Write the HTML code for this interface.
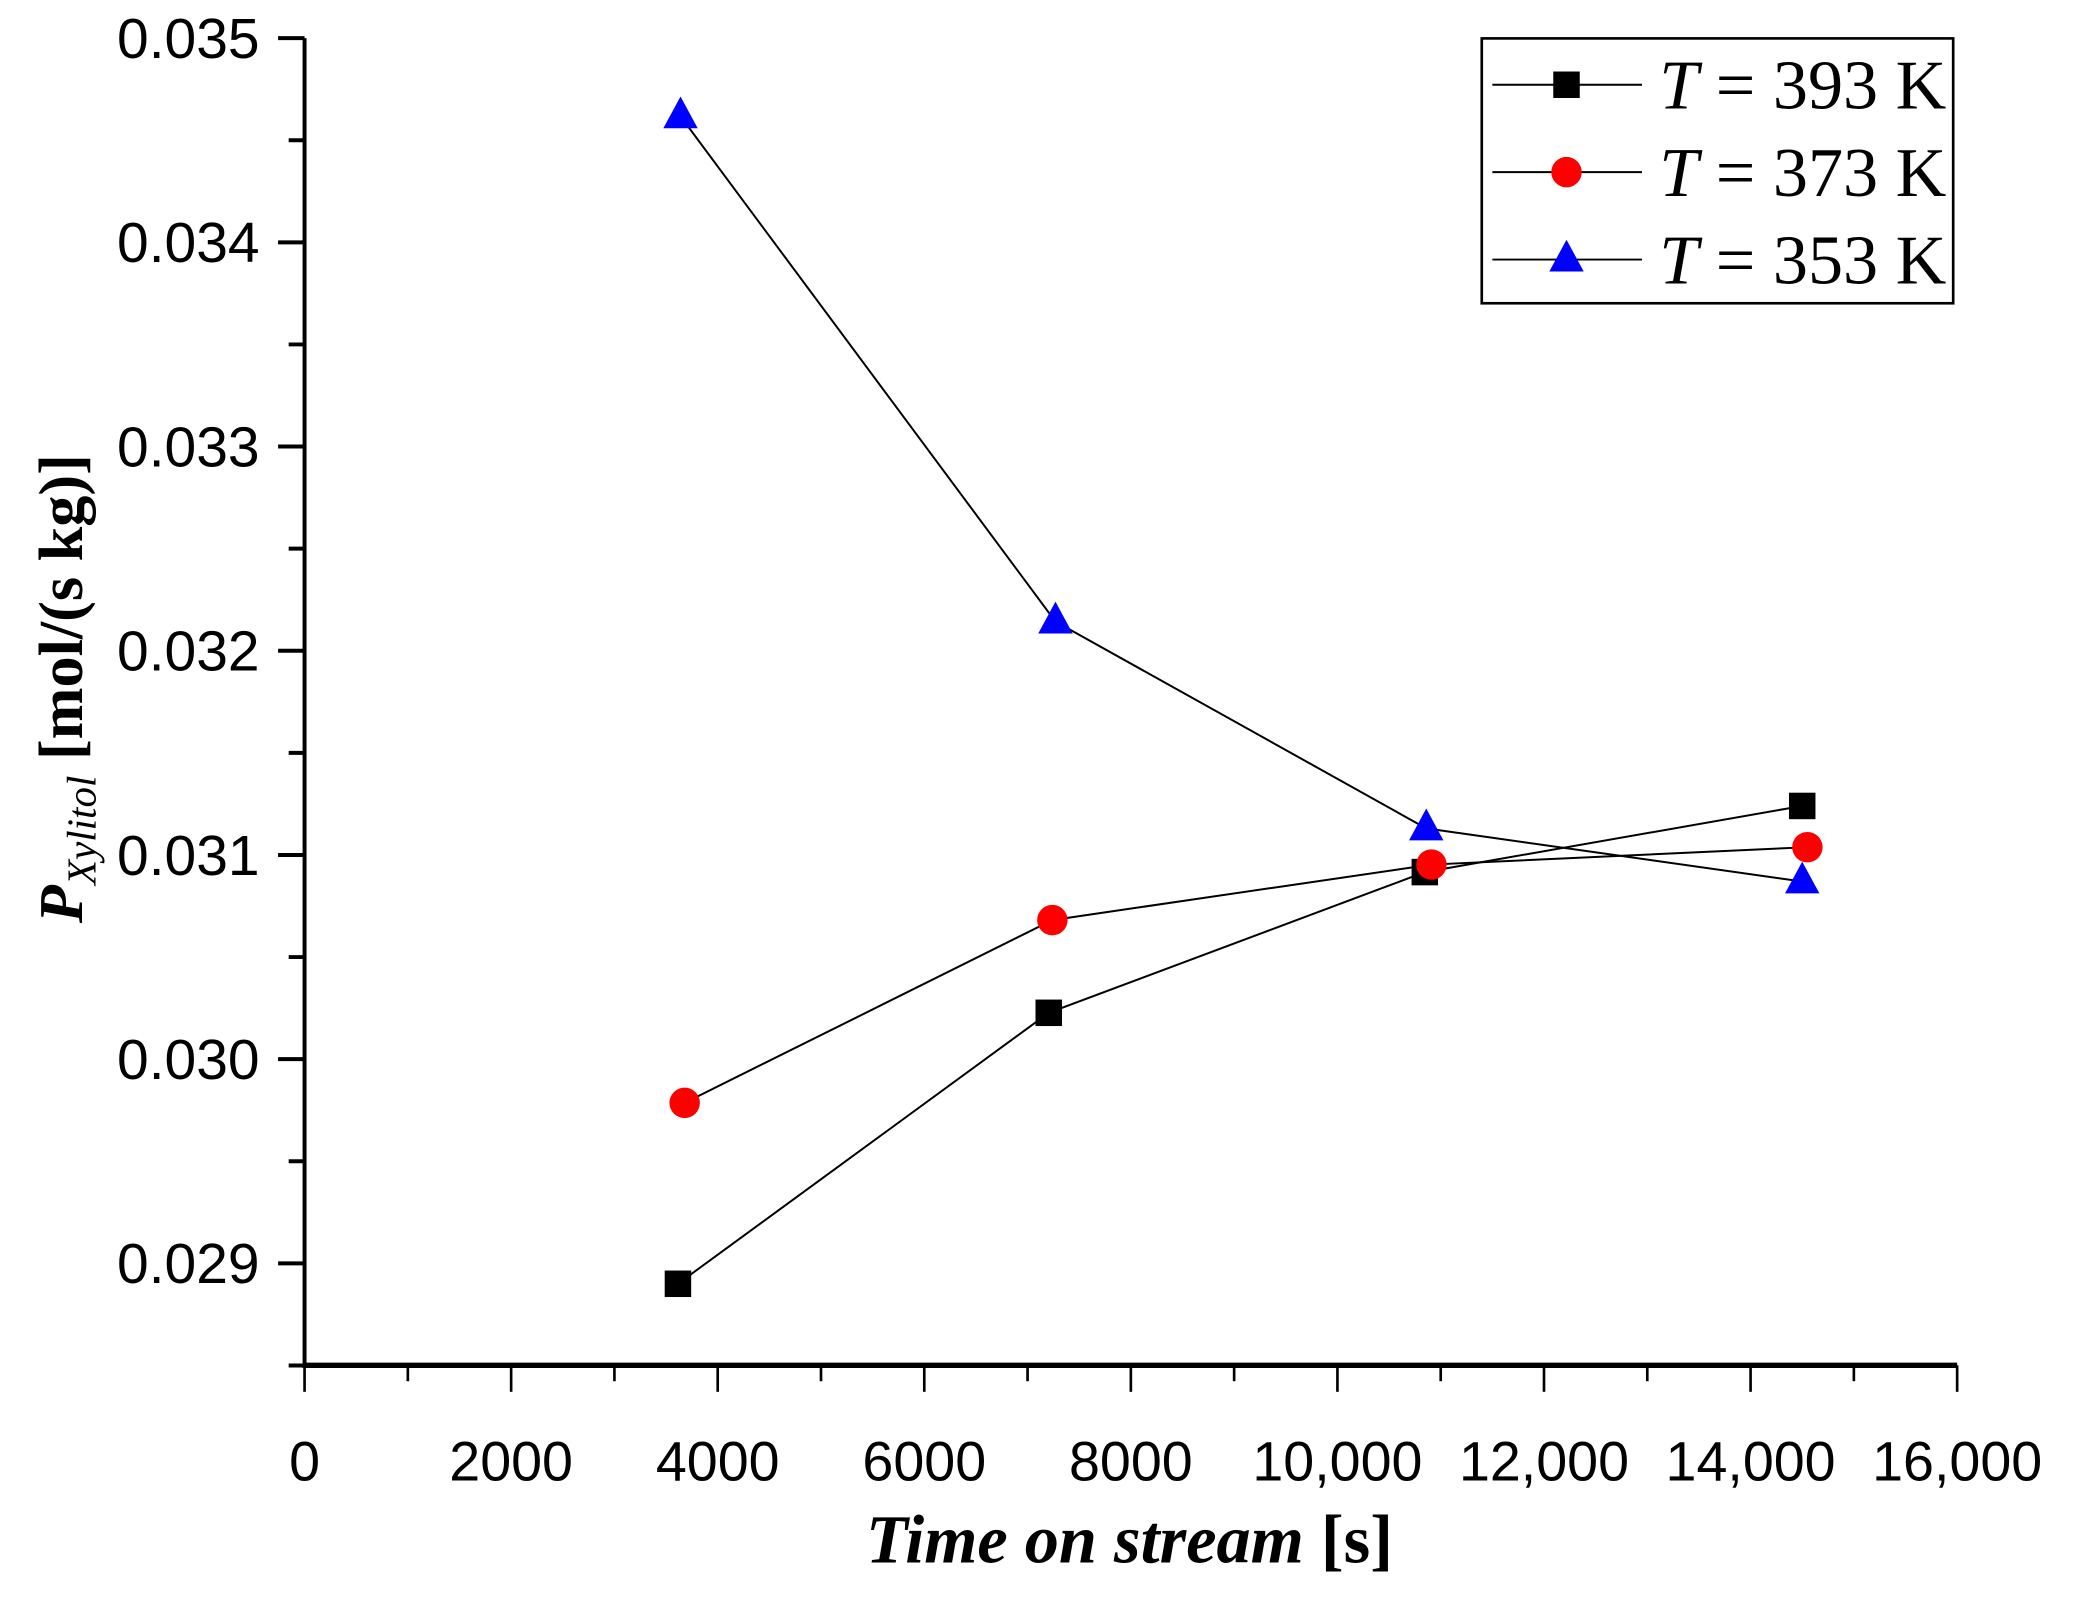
<!DOCTYPE html>
<html><head><meta charset="utf-8"><style>
html,body{margin:0;padding:0;background:#fff;}
svg{display:block;}
</style></head><body>
<svg id="chart" width="2075" height="1609" viewBox="0 0 1567 1215" preserveAspectRatio="none" xmlns="http://www.w3.org/2000/svg"></svg>
<script>
const xTicks = [0,2000,4000,6000,8000,10000,12000,14000,16000];
const xTickLabels = ["0","2000","4000","6000","8000","10,000","12,000","14,000","16,000"];
const yTicks = [0.029,0.030,0.031,0.032,0.033,0.034,0.035];
const yTickLabels = ["0.029","0.030","0.031","0.032","0.033","0.034","0.035"];
const seriesNames = ["393 K","373 K","353 K"];
const x393 = [3615,7205,10846,14500];
const y393 = [0.02890,0.030227,0.030916,0.03124];
const x373 = [3680,7240,10910,14550];
const y373 = [0.029786,0.030681,0.030953,0.031038];
const x353 = [3640,7270,10860,14500];
const y353 = [0.034617,0.032143,0.03113,0.03087];

const NS="http://www.w3.org/2000/svg";
const svg=document.getElementById('chart');
const X0=230,X1=1478,YB=1031;
const xs=v=>X0+(v-0)/16000*(X1-X0);
const ys=v=>954-(v-0.029)/0.001*154.2;
function mk(tag,attrs,parent){const e=document.createElementNS(NS,tag);for(const k in attrs)e.setAttribute(k,attrs[k]);(parent||svg).appendChild(e);return e;}

let a=mk('line',{x1:X0,y1:YB,x2:X1,y2:YB,stroke:'#000','stroke-width':4});


a=mk('line',{x1:X0,y1:YB+2,x2:X0,y2:ys(0.035),stroke:'#000','stroke-width':3});



for(let v=0;v<=16000;v+=1000){
  const major=v%2000===0;
  const t=mk('line',{x1:xs(v),y1:YB,x2:xs(v),y2:YB+(major?20:12),stroke:'#000','stroke-width':2});
  
  
}
xTicks.forEach((v,i)=>{
  const t=mk('text',{x:xs(v),y:1118,'text-anchor':'middle','font-family':'Liberation Sans, sans-serif','font-size':42});
  t.textContent=xTickLabels[i];
  
  
});
for(let k=0;k<=13;k++){
  const v=0.0285+k*0.0005;
  const major=k%2===1;
  const t=mk('line',{x1:X0-(major?20:12),y1:ys(v),x2:X0,y2:ys(v),stroke:'#000','stroke-width':3});
  
  
}
yTicks.forEach((v,i)=>{
  const t=mk('text',{x:196,y:ys(v)+15,'text-anchor':'end','font-family':'Liberation Sans, sans-serif','font-size':43});
  t.textContent=yTickLabels[i];
  
  
});

let xt=mk('text',{x:853,y:1180,'text-anchor':'middle','font-family':'Liberation Serif, serif','font-size':52,'font-weight':'bold','font-style':'italic',textLength:398,lengthAdjust:'spacingAndGlyphs'});
xt.innerHTML='Time on stream <tspan font-style="normal">[s]</tspan>';


let yt=mk('text',{transform:'translate(62,520) rotate(-90)','text-anchor':'middle','font-family':'Liberation Serif, serif','font-size':47,'font-weight':'bold'});
yt.innerHTML='<tspan font-style="italic">P</tspan><tspan font-style="italic" font-weight="normal" font-size="31" dy="10">Xylitol</tspan><tspan dy="-10"> [mol/(s kg)]</tspan>';



function marker(type,cx,cy,g){
  let m;
  if(type==='sq') m=mk('rect',{x:cx-10,y:cy-10,width:20,height:20,fill:'#000'},g);
  else if(type==='ci') m=mk('circle',{cx:cx,cy:cy,r:11.5,fill:'#f00'},g);
  else m=mk('polygon',{points:`${cx},${cy-15} ${cx+13},${cy+9} ${cx-13},${cy+9}`,fill:'#00f'},g);
  return m;
}
const series=[[x393,y393,'sq','series-393k'],[x373,y373,'ci','series-373k'],[x353,y353,'tr','series-353k']];
series.forEach(([xa,ya,type,name])=>{
  const g=mk('g',{});
  
  
  const l=mk('polyline',{points:xa.map((x,i)=>xs(x)+','+ys(ya[i])).join(' '),fill:'none',stroke:'#000','stroke-width':1.5},g);
  
  
  xa.forEach((x,i)=>{
    const m=marker(type,xs(x),ys(ya[i]),g);
    
    
  });
});

const lg=mk('g',{});


mk('rect',{x:1119,y:29,width:356,height:200,fill:'#fff',stroke:'#000','stroke-width':2},lg);
['sq','ci','tr'].forEach((type,i)=>{
  const y=64+i*66;
  const e=mk('g',{},lg);
  
  
  mk('line',{x1:1127,y1:y,x2:1240,y2:y,stroke:'#000','stroke-width':1.5},e);
  marker(type,1183,y,e);
  const t=mk('text',{x:1253,y:y+18,'font-family':'Liberation Serif, serif','font-size':53},e);
  t.innerHTML='<tspan font-style="italic">T</tspan> = '+seriesNames[i];
});
</script>
</body></html>
